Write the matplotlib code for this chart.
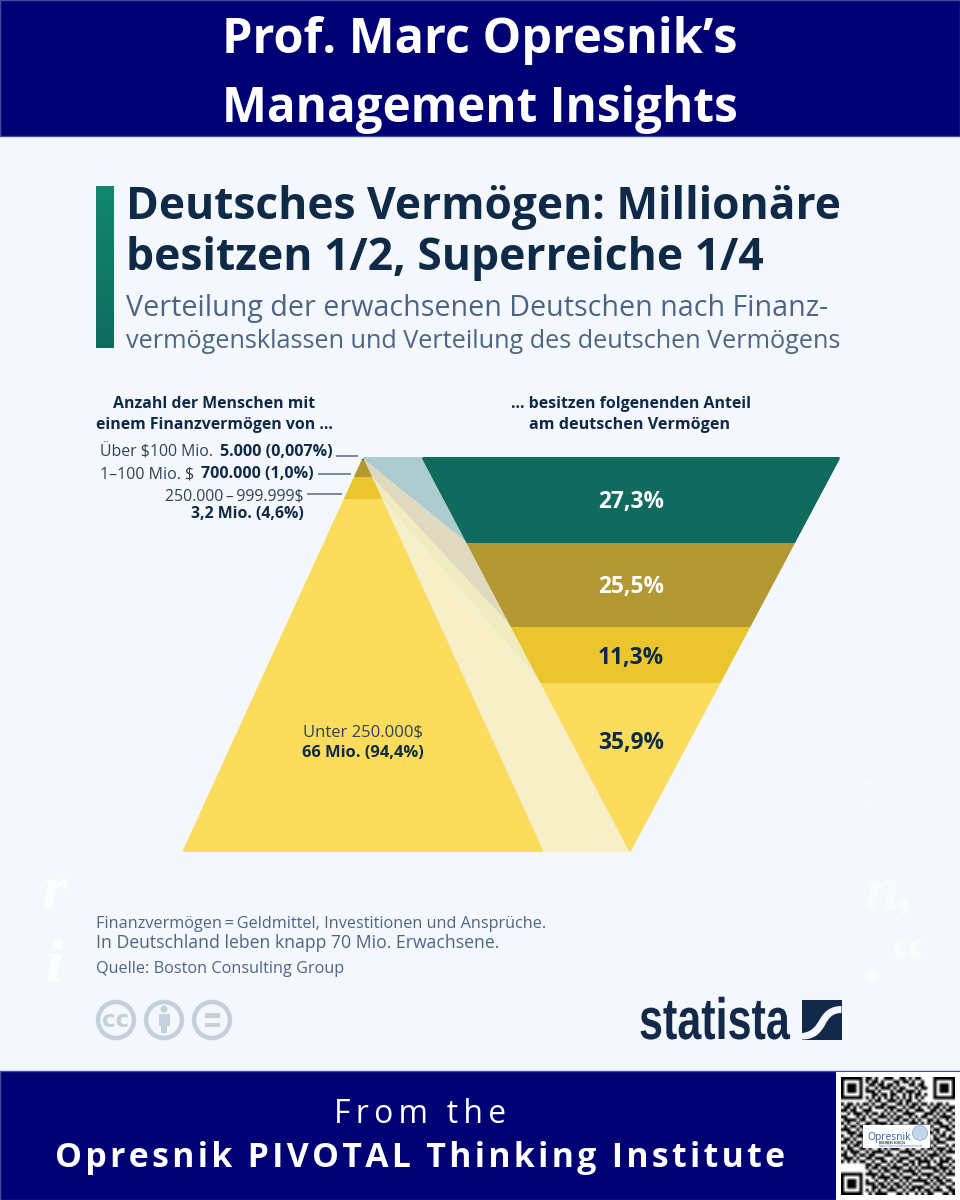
import numpy as np
import matplotlib
matplotlib.use("Agg")
import matplotlib.pyplot as plt
from matplotlib.path import Path
from matplotlib.patches import PathPatch, Polygon, Rectangle, Circle
from matplotlib.colors import LinearSegmentedColormap
from matplotlib.patheffects import AbstractPathEffect
from matplotlib.transforms import Affine2D

# --- data ---------------------------------------------------------------
wealth_classes = ["Über $100 Mio.", "1–100 Mio. $", "250.000\u2009–\u2009999.999$", "Unter 250.000$"]
people_labels = ["5.000 (0,007%)", "700.000 (1,0%)", "3,2 Mio. (4,6%)", "66 Mio. (94,4%)"]
wealth_share_labels = ["27,3%", "25,5%", "11,3%", "35,9%"]
# drawn height of every band in the two triangles
pyramid_depths = [3, 17, 22, 353]
funnel_depths = [86, 84, 56, 169]

band_colors = ["#106a5e", "#b39833", "#ebc52e", "#fbdc5c"]
ribbon_colors = ["#aecccf", "#dfdabf", "#f2ebbf", "#f7efc8"]
value_colors = ["white", "white", "#0f2a47", "#0f2a47"]

NAVY = "#000075"
INK = "#0f2a47"
SLATE = "#4d6585"
PAPER = "#f4f7fb"
ICON = "#c4d0da"
SANS = ["Open Sans", "DejaVu Sans"]

qr_rows = [
    "0000000011010011100110101100000000000",
    "0000000010110100011011010010000000000",
    "0000000001101101101000110110000000000",
    "0000000010010111010110001011000000000",
    "0000000011101000101101110100000000000",
    "0000000000110110110010101101000000000",
    "0000000010101010101010101010000000000",
    "0000000001011001110101100100000000000",
    "1011010110100110001101011011010110100",
    "0110101001011101110010110100101101011",
    "1101100111000010101101001110011010110",
    "0010111010110101010011110001110101001",
    "1100010101001110101100101011001011110",
    "0111101100110001011011010100110100101",
    "1010010011011110100100111010101110010",
    "0101101110100101111011000101010011101",
    "1110010101111010001101110110101100110",
    "0011101011000101110010101001110101001",
    "1001011100111010011101010110001011010",
    "0110100110010111100010111001101100111",
    "1101011001101000111101000110010111000",
    "0010110110110111000110101101101000101",
    "1011001101001010111001010010110111010",
    "0101110010111101000111101101001010111",
    "1100101101100011101000110010111101000",
    "0111010011011100010111001101010010110",
    "1010101100100110101100110111101011101",
    "0000000011011001010011010100100110010",
    "0000000010110110111100101011111011101",
    "0000000001001011001011110100001101010",
    "0000000011110100110100011011110010111",
    "0000000000101111011011100100101101000",
    "0000000010010010100101011111010110110",
    "0000000011101101011010100001101011001",
    "0000000000110110101101011110010100110",
    "0000000010101001110010110101101110011",
    "0000000001011110001101001010110001101",
]

# --- canvas -------------------------------------------------------------
fig = plt.figure(figsize=(9.6, 12), dpi=100, facecolor=PAPER)
ax = fig.add_axes([0, 0, 1, 1])
ax.set_xlim(0, 960)
ax.set_ylim(1200, 0)
ax.axis("off")


def fitted(x, y, s, width=None, size=12, ha="left", **kw):
    """Baseline text; when a width is given the size is scaled to occupy it."""
    kw.setdefault("family", SANS)
    t = ax.text(x, y, s, fontsize=size, ha=ha, va="baseline", **kw)
    if width is not None:
        w = t.get_window_extent(fig.canvas.get_renderer()).width
        t.set_fontsize(size * width / w)
    return t


def rounded_polygon(points, r):
    """Closed path through the points with corners softened by radius r."""
    pts = [np.asarray(p, float) for p in points]
    n = len(pts)
    verts, codes = [], []
    for i in range(n):
        p, prev, nxt = pts[i], pts[i - 1], pts[(i + 1) % n]
        a = p + (prev - p) / np.linalg.norm(prev - p) * r
        b = p + (nxt - p) / np.linalg.norm(nxt - p) * r
        verts += [a, p, b]
        codes += [Path.MOVETO if i == 0 else Path.LINETO, Path.CURVE3, Path.CURVE3]
    verts.append(verts[0])
    codes.append(Path.CLOSEPOLY)
    return Path(verts, codes)


class Condensed(AbstractPathEffect):
    """Squeezes glyph outlines horizontally about a display-space anchor."""

    def __init__(self, anchor_x, factor):
        super().__init__()
        self.anchor_x = anchor_x
        self.factor = factor

    def draw_path(self, renderer, gc, tpath, affine, rgbFace=None):
        squeeze = Affine2D().translate(-self.anchor_x, 0).scale(self.factor, 1).translate(self.anchor_x, 0)
        renderer.draw_path(gc, tpath, affine + squeeze, rgbFace)


def spaced(s, gap):
    return gap.join(s)


# --- banners ------------------------------------------------------------
ax.add_patch(Rectangle((0, 0), 960, 136, fc=NAVY, ec="#3b4f9c", lw=1, zorder=1))
ax.add_patch(Rectangle((0, 1071), 960, 129, fc=NAVY, ec="#3b4f9c", lw=1, zorder=1))
fitted(480, 53, "Prof. Marc Opresnik’s", 516, 34, "center", color="white", weight="bold", zorder=2)
fitted(480, 122, "Management Insights", 516, 34, "center", color="white", weight="bold", zorder=2)
fitted(420.5, 1123, spaced("From the", "\u2009"), 173, 22, "center", color="white", zorder=2)
fitted(420.5, 1167, spaced("Opresnik PIVOTAL Thinking Institute", "\u200a"), 728, 22, "center",
       color="white", weight="bold", zorder=2)

# --- QR block -----------------------------------------------------------
ax.add_patch(Rectangle((836, 1072), 124, 128, fc="white", ec="none", zorder=2))
qr = np.array([[int(c) for c in row] for row in qr_rows])
finder = np.ones((7, 7), int)
finder[1:6, 1:6] = 0
finder[2:5, 2:5] = 1
qr[0:7, 0:7] = finder
qr[0:7, -7:] = finder
qr[-7:, 0:7] = finder
ax.imshow(1 - qr, cmap="gray", vmin=0, vmax=1, extent=(841, 955, 1195, 1077),
          interpolation="bilinear", aspect="auto", zorder=3)
ax.set_xlim(0, 960)
ax.set_ylim(1200, 0)
ax.add_patch(Rectangle((863, 1125), 67, 23, fc="white", ec="none", zorder=4))
fitted(867, 1140, "Opresnik", 44, 9, color="#2c5fa8", zorder=5)
fitted(879, 1144.5, "BUSINESS SCHOOL", 26, 3, color="#333333", weight="bold", zorder=5)
fitted(879, 1147.5, "https://OpresnikBusinessSchool", 45, 3, color="#3f6fbf", zorder=5)
ax.add_patch(Circle((920, 1133), 7.5, fc="#c3d5ea", ec="#8fb0d6", lw=0.6, zorder=5))

# --- title block --------------------------------------------------------
accent = LinearSegmentedColormap.from_list("accent", ["#12876f", "#0f6b5e"])
ax.imshow(np.linspace(0, 1, 64)[:, None], cmap=accent, extent=(96, 114, 348, 186),
          aspect="auto", zorder=2)
ax.set_xlim(0, 960)
ax.set_ylim(1200, 0)
fitted(126, 219, "Deutsches Vermögen: Millionäre", 715, 32, color=INK, weight="bold")
fitted(126, 270, "besitzen 1/2, Superreiche 1/4", 637, 32, color=INK, weight="bold")
fitted(126, 316, "Verteilung der erwachsenen Deutschen nach Finanz-", 700, 18, color=SLATE)
fitted(126, 348, "vermögensklassen und Verteilung des deutschen Vermögens", 714, 18, color=SLATE)

fitted(214, 408, "Anzahl der Menschen mit", 202, 11, "center", color=INK, weight="bold")
fitted(214.5, 429, "einem Finanzvermögen von ...", 237, 11, "center", color=INK, weight="bold")
fitted(631, 408, "... besitzen folgenenden Anteil", 240, 11, "center", color=INK, weight="bold")
fitted(630, 429, "am deutschen Vermögen", 200, 11, "center", color=INK, weight="bold")

# --- pyramid, funnel and connecting ribbons -----------------------------
TOP, BOTTOM = 457, 852
PYR_APEX, PYR_LEFT, PYR_RIGHT = 363, 183, 543
FUN_LEFT, FUN_RIGHT, FUN_TIP = 422, 840, 630


def depth_scale(y):
    return TOP + np.asarray(y, float) * (BOTTOM - TOP) / sum(pyramid_depths)


pyr_edges = depth_scale(np.concatenate([[0], np.cumsum(pyramid_depths)]))
fun_edges = depth_scale(np.concatenate([[0], np.cumsum(funnel_depths)]))


def lerp(a, b, y):
    return a + (b - a) * (y - TOP) / (BOTTOM - TOP)


pyr_clip = PathPatch(rounded_polygon([(PYR_APEX, TOP), (PYR_RIGHT + 1, BOTTOM), (PYR_LEFT - 1, BOTTOM)], 3),
                     transform=ax.transData, fc="none", ec="none")
fun_clip = PathPatch(rounded_polygon([(FUN_LEFT - 1, TOP), (FUN_RIGHT + 1, TOP), (FUN_TIP, BOTTOM + 1)], 3),
                     transform=ax.transData, fc="none", ec="none")
ax.add_patch(pyr_clip)
ax.add_patch(fun_clip)

for i in range(4):
    p0, p1 = pyr_edges[i], pyr_edges[i + 1]
    f0, f1 = fun_edges[i], fun_edges[i + 1]
    pr0, pr1 = lerp(PYR_APEX, PYR_RIGHT, p0), lerp(PYR_APEX, PYR_RIGHT, p1)
    fl0, fl1 = lerp(FUN_LEFT, FUN_TIP, f0), lerp(FUN_LEFT, FUN_TIP, f1)
    ax.add_patch(Polygon([(pr0, p0), (fl0, f0), (fl1, f1), (pr1, p1)],
                         fc=ribbon_colors[i], ec="none", zorder=3))

for i in range(4):
    p0, p1 = pyr_edges[i], pyr_edges[i + 1]
    f0, f1 = fun_edges[i], fun_edges[i + 1]
    band = Polygon([(lerp(PYR_APEX, PYR_LEFT, p0) - 1, p0), (lerp(PYR_APEX, PYR_RIGHT, p0) + 1, p0),
                    (lerp(PYR_APEX, PYR_RIGHT, p1) + 1, p1), (lerp(PYR_APEX, PYR_LEFT, p1) - 1, p1)],
                   fc=band_colors[i], ec="none", zorder=4)
    ax.add_patch(band)
    band.set_clip_path(pyr_clip)
    w0 = lerp(FUN_RIGHT, FUN_TIP, f0) - lerp(FUN_LEFT, FUN_TIP, f0)
    w1 = lerp(FUN_RIGHT, FUN_TIP, f1) - lerp(FUN_LEFT, FUN_TIP, f1)
    band = Polygon([(lerp(FUN_LEFT, FUN_TIP, f0) - 1, f0), (lerp(FUN_RIGHT, FUN_TIP, f0) + 1, f0),
                    (lerp(FUN_RIGHT, FUN_TIP, f1) + 1, f1), (lerp(FUN_LEFT, FUN_TIP, f1) - 1, f1)],
                   fc=band_colors[i], ec="none", zorder=4)
    ax.add_patch(band)
    band.set_clip_path(fun_clip)
    # each share sits on the centroid of its band
    centroid = f0 + (f1 - f0) / 3 * (w0 + 2 * w1) / (w0 + w1)
    fitted(631, centroid + 10, wealth_share_labels[i], 66, 16, "center",
           color=value_colors[i], weight="bold", zorder=5)

# --- pyramid labels -----------------------------------------------------
LABEL = "#2f4259"
fitted(100, 456.5, wealth_classes[0], 113, 11, color=LABEL)
fitted(333, 456.5, people_labels[0], 112, 11, "right", color=INK, weight="bold")
fitted(100, 478, wealth_classes[1], 94, 11, color=LABEL)
fitted(314, 478, people_labels[1], 111, 11, "right", color=INK, weight="bold")
fitted(304, 501, wealth_classes[2], 139, 11, "right", color=LABEL)
fitted(304, 518, people_labels[2], 113, 11, "right", color=INK, weight="bold")
fitted(363, 737, wealth_classes[3], 119, 11, "center", color=LABEL, zorder=5)
fitted(363, 757, people_labels[3], 122, 11, "center", color=INK, weight="bold", zorder=5)

for x0, x1, y in [(336, 358, 456), (318, 351, 474), (307, 342, 494)]:
    ax.plot([x0, x1], [y, y], color="#5a6a80", lw=1.1, solid_capstyle="butt", zorder=5)

# --- notes --------------------------------------------------------------
fitted(96, 928, "Finanzvermögen\u2009=\u2009Geldmittel, Investitionen und Ansprüche.", 451, 11, color=SLATE)
fitted(96, 948, "In Deutschland leben knapp 70 Mio. Erwachsene.", 402, 11, color=SLATE)
fitted(96, 973, "Quelle: Boston Consulting Group", 249, 11, color=SLATE)

# --- licence icons ------------------------------------------------------
for cx in (116, 164, 212):
    ax.add_patch(Circle((cx, 1020), 18, fc="none", ec=ICON, lw=3.2, zorder=2))
fitted(116, 1027, "cc", None, 16.5, "center", color=ICON, weight="heavy", family="DejaVu Sans")
ax.add_patch(Circle((164, 1009), 3.6, fc=ICON, ec="none", zorder=2))
ax.add_patch(Rectangle((158.5, 1014), 11, 12, fc=ICON, ec="none", zorder=2))
ax.add_patch(Rectangle((161, 1024), 6, 9, fc=ICON, ec="none", zorder=2))
ax.add_patch(Rectangle((204.5, 1013), 15, 4.5, fc=ICON, ec="none", zorder=2))
ax.add_patch(Rectangle((204.5, 1022.5), 15, 4.5, fc=ICON, ec="none", zorder=2))

# --- publisher mark -----------------------------------------------------
brand = fitted(639, 1039, "statista", None, 42, color="#12294a", weight="bold", family="Liberation Sans")
natural = brand.get_window_extent(fig.canvas.get_renderer()).width
brand.set_path_effects([Condensed(639, 151 / natural)])
ax.add_patch(Rectangle((802, 1000), 39.5, 39.5, fc="#12294a", ec="none", zorder=2))
swoosh = Path(
    [(802, 1033), (812, 1032), (816, 1026), (820, 1019), (824, 1012), (830, 1006), (841.5, 1006),
     (841.5, 1013), (832, 1013), (828, 1019), (825, 1025), (820, 1034), (814, 1039.5), (802, 1039.5), (802, 1033)],
    [Path.MOVETO, Path.CURVE4, Path.CURVE4, Path.CURVE4, Path.CURVE4, Path.CURVE4, Path.CURVE4,
     Path.LINETO, Path.CURVE4, Path.CURVE4, Path.CURVE4, Path.CURVE4, Path.CURVE4, Path.CURVE4, Path.CLOSEPOLY])
ax.add_patch(PathPatch(swoosh, fc=PAPER, ec="none", zorder=3))

# --- pale lettering in the margins --------------------------------------
for x, y, s, px, fade in [(43, 908, "r", 62, 0.9), (45, 982, "i", 62, 0.9),
                          (865, 908, "n,", 62, 0.55), (886, 985, "“", 72, 0.55)]:
    fitted(x, y, s, None, px * 0.72, color="white", weight="bold", style="italic",
           family=["Liberation Serif", "DejaVu Serif"], alpha=fade)
ax.add_patch(Circle((872, 976), 6, fc="white", ec="none", alpha=0.7))
ax.add_patch(Rectangle((865, 781), 6, 2.5, fc="white", ec="none", alpha=0.6))
ax.add_patch(Circle((867, 806), 2, fc="white", ec="none", alpha=0.5))

fig.savefig("out.png", dpi=100, facecolor=PAPER)
